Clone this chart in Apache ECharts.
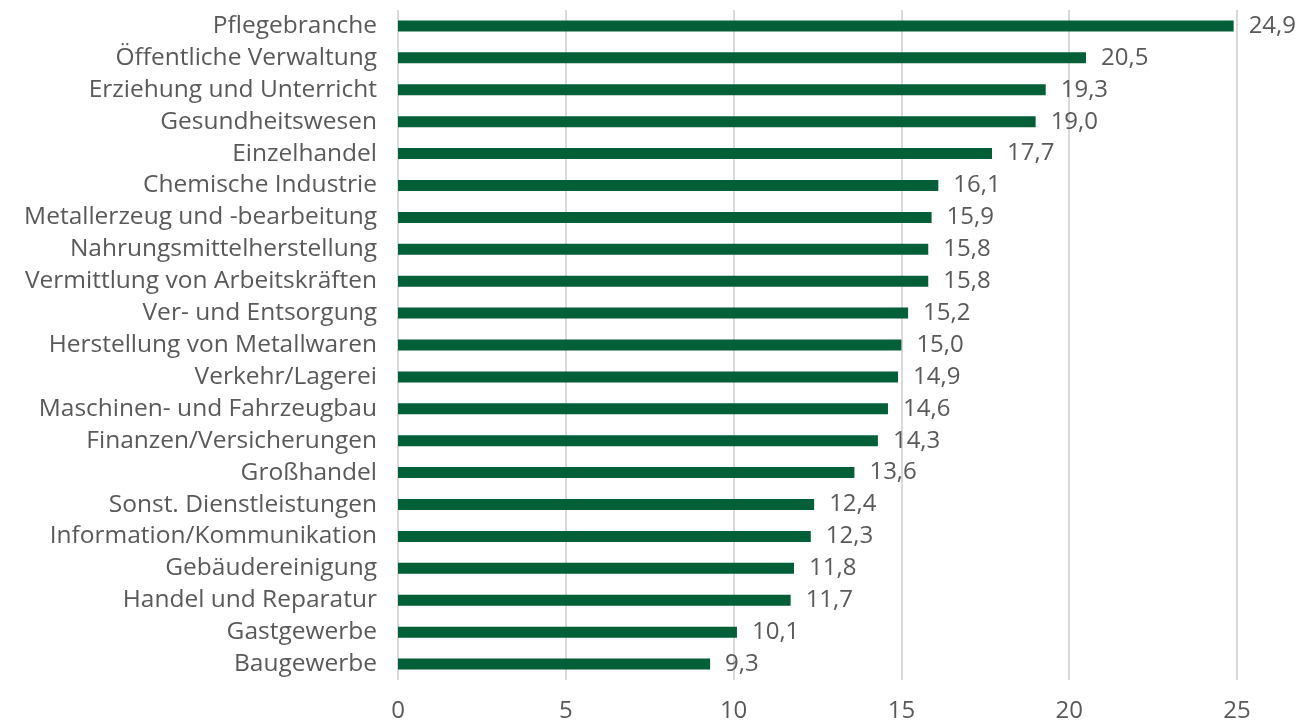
<!DOCTYPE html>
<html><head><meta charset="utf-8">
<script src="https://cdn.jsdelivr.net/npm/echarts@6/dist/echarts.min.js"></script>
<style>html,body{margin:0;padding:0;background:#fff}#c{width:1303px;height:724px}</style>
</head><body><div id="c"></div>
<script>
const categories = ["Pflegebranche","Öffentliche Verwaltung","Erziehung und Unterricht","Gesundheitswesen","Einzelhandel","Chemische Industrie","Metallerzeug und -bearbeitung","Nahrungsmittelherstellung","Vermittlung von Arbeitskräften","Ver- und Entsorgung","Herstellung von Metallwaren","Verkehr/Lagerei","Maschinen- und Fahrzeugbau","Finanzen/Versicherungen","Großhandel","Sonst. Dienstleistungen","Information/Kommunikation","Gebäudereinigung","Handel und Reparatur","Gastgewerbe","Baugewerbe"];
const values = [24.9,20.5,19.3,19.0,17.7,16.1,15.9,15.8,15.8,15.2,15.0,14.9,14.6,14.3,13.6,12.4,12.3,11.8,11.7,10.1,9.3];
const xTicks = [0,5,10,15,20,25];
const font = "'Open Sans', 'Noto Sans', sans-serif";
const chart = echarts.init(document.getElementById('c'));
chart.setOption({
  animation:false,
  grid:{left:398,right:66,top:10,bottom:44,containLabel:false},
  xAxis:{type:'value',min:0,max:25,interval:5,
    axisLine:{show:false},axisTick:{show:false},
    splitLine:{lineStyle:{color:'#d9d9d9',width:2}},
    axisLabel:{color:'#595959',fontSize:24,fontFamily:font,margin:19,
      formatter:v=>xTicks.includes(v)?String(v):''}},
  yAxis:{type:'category',inverse:true,data:categories,
    axisLine:{show:false},axisTick:{show:false},
    axisLabel:{color:'#595959',fontSize:24.5,fontFamily:font,margin:21,interval:0,hideOverlap:false}},
  series:[{type:'bar',data:values,barWidth:11,
    itemStyle:{color:'#035F38'},
    label:{show:true,position:'right',distance:15,color:'#595959',fontSize:24,fontFamily:font,
      formatter:p=>p.value.toFixed(1).replace('.',',')}}]
});
</script></body></html>
